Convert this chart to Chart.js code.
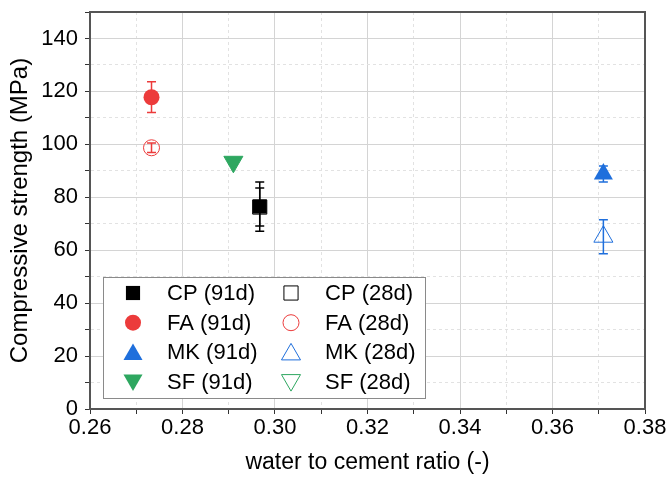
<!DOCTYPE html>
<html>
<head>
<meta charset="utf-8">
<script src="https://cdn.jsdelivr.net/npm/chart.js@4"></script>
<style>
  html, body { margin: 0; padding: 0; background: #fff; }
  #wrap { width: 670px; height: 484px; position: relative; }
</style>
</head>
<body>
<div id="wrap"><canvas id="scatterChart"></canvas></div>
<script>
// mixes and their water to cement ratio
var mixNames = ['CP', 'FA', 'MK', 'SF'];
var mixWc = [0.2967, 0.2733, 0.3710, 0.2910];

// compressive strength (MPa) and error (+/-)
var strength91 = [76.5, 117.8, 88.8, 93.4];
var error91 = [9.3, 5.8, 3.0, 1.0];
var strength28 = [76.3, 98.7, 65.1, 93.4];
var error28 = [7.2, 1.8, 6.4, 1.0];

var mixColors = ['#000000', '#ec3b3b', '#1f6fdc', '#2ea760'];
var mixSymbols = ['rect', 'circle', 'triangle', 'triangle'];
var mixRotation = [0, 0, 0, 180];
var mixRadius = [10, 8, 11, 11];

var fontFamily = '"Liberation Sans", Arial, sans-serif';

var datasets = [];
// 91 day series first so they sit on top
mixNames.forEach(function (name, i) {
  datasets.push({
    label: name + ' (91d)',
    data: [{ x: mixWc[i], y: strength91[i] }],
    errors: [error91[i]],
    pointStyle: mixSymbols[i],
    rotation: mixRotation[i],
    pointRadius: mixRadius[i],
    pointHoverRadius: mixRadius[i],
    backgroundColor: mixColors[i],
    borderColor: mixColors[i],
    borderWidth: 0,
    hollow: false
  });
});
mixNames.forEach(function (name, i) {
  datasets.push({
    label: name + ' (28d)',
    data: [{ x: mixWc[i], y: strength28[i] }],
    errors: [error28[i]],
    pointStyle: mixSymbols[i],
    rotation: mixRotation[i],
    pointRadius: mixRadius[i],
    pointHoverRadius: mixRadius[i],
    backgroundColor: 'rgba(0,0,0,0)',
    borderColor: mixColors[i],
    borderWidth: 1,
    hollow: true
  });
});

var errorBars = {
  id: 'errorBars',
  beforeDatasetsDraw: function (chart) {
    var ctx = chart.ctx;
    var yScale = chart.scales.y;
    ctx.save();
    chart.data.datasets.forEach(function (ds, di) {
      var meta = chart.getDatasetMeta(di);
      meta.data.forEach(function (pt, j) {
        var v = ds.data[j].y, e = ds.errors[j];
        var yTop = yScale.getPixelForValue(v + e);
        var yBot = yScale.getPixelForValue(v - e);
        ctx.strokeStyle = ds.borderColor;
        ctx.lineWidth = 1.5;
        ctx.beginPath();
        ctx.moveTo(pt.x, yTop); ctx.lineTo(pt.x, yBot);
        ctx.moveTo(pt.x - 4.5, yTop); ctx.lineTo(pt.x + 4.5, yTop);
        ctx.moveTo(pt.x - 4.5, yBot); ctx.lineTo(pt.x + 4.5, yBot);
        ctx.stroke();
      });
    });
    ctx.restore();
  }
};

// legend drawn inside the plot area, two columns
var innerLegend = {
  id: 'innerLegend',
  afterDraw: function (chart) {
    var ctx = chart.ctx;
    var area = chart.chartArea;
    var bx = area.left + 13, by = 277, bw = 322, bh = 121;
    ctx.save();
    ctx.fillStyle = '#ffffff';
    ctx.fillRect(bx, by, bw, bh);
    ctx.strokeStyle = '#8a8a8a';
    ctx.lineWidth = 1;
    ctx.strokeRect(bx + 0.5, by + 0.5, bw, bh);
    ctx.font = '22px ' + fontFamily;
    ctx.textBaseline = 'middle';
    ctx.fillStyle = '#000';
    chart.data.datasets.forEach(function (ds, di) {
      var col = di < 4 ? 0 : 1;
      var row = di % 4;
      var cy = by + 16 + row * 29.7;
      var sx = bx + 30 + col * 158;
      var r = ds.pointStyle === 'rect' ? 10 : (ds.pointStyle === 'circle' ? 8 : 11);
      ctx.fillStyle = ds.backgroundColor;
      ctx.strokeStyle = ds.borderColor;
      ctx.lineWidth = ds.hollow ? 1 : 0;
      Chart.helpers.drawPoint(ctx, {
        pointStyle: ds.pointStyle,
        rotation: ds.rotation,
        radius: r,
        borderWidth: ds.hollow ? 1 : 0
      }, sx, ds.pointStyle === 'triangle' ? cy + (ds.rotation ? -2 : 2) : cy);
      ctx.fillStyle = '#000';
      ctx.fillText(ds.label, sx + 34, cy + 1);
    });
    ctx.restore();
  }
};

function minorDash(ctx) {
  if (!ctx.tick) return [];
  return ctx.tick.major ? [] : [3, 3];
}

new Chart(document.getElementById('scatterChart'), {
  type: 'scatter',
  data: { datasets: datasets },
  options: {
    responsive: true,
    maintainAspectRatio: false,
    animation: false,
    layout: { padding: { top: 6, right: 25, left: 2, bottom: 4 } },
    plugins: {
      legend: { display: false },
      tooltip: { enabled: false }
    },
    scales: {
      x: {
        type: 'linear',
        min: 0.26,
        max: 0.38,
        afterFit: function (s) { s.height = 71; },
        ticks: {
          stepSize: 0.01,
          color: '#000',
          font: { family: fontFamily, size: 22 },
          padding: 1,
          maxRotation: 0,
          autoSkip: false,
          callback: function (v) {
            var n = Math.round(v * 100);
            return n % 2 === 0 ? (n / 100).toFixed(2) : '';
          }
        },
        afterBuildTicks: function (s) {
          s.ticks.forEach(function (t) { t.major = Math.round(t.value * 100) % 2 === 0; });
        },
        grid: {
          color: function (c) { return c.tick && c.tick.major ? '#d4d4d4' : '#e2e2e2'; },
          lineWidth: 1,
          tickColor: '#333',
          tickLength: 5
        },
        border: { color: '#555', width: 2, dash: minorDash },
        title: {
          display: true,
          text: 'water to cement ratio (-)',
          color: '#000',
          font: { family: fontFamily, size: 23 },
          padding: { top: 6 }
        }
      },
      y: {
        min: 0,
        max: 150,
        afterFit: function (s) { s.width = 88; s.paddingTop = 0; s.paddingBottom = 0; },
        ticks: {
          stepSize: 10,
          color: '#000',
          font: { family: fontFamily, size: 22 },
          padding: 7,
          autoSkip: false,
          callback: function (v) { return v % 20 === 0 ? v : ''; }
        },
        afterBuildTicks: function (s) {
          s.ticks.forEach(function (t) { t.major = t.value % 20 === 0; });
        },
        grid: {
          color: function (c) { return c.tick && c.tick.major ? '#d4d4d4' : '#e2e2e2'; },
          lineWidth: 1,
          tickColor: '#333',
          tickLength: 5
        },
        border: { color: '#555', width: 2, dash: minorDash },
        title: {
          display: true,
          text: 'Compressive strength (MPa)',
          color: '#000',
          font: { family: fontFamily, size: 24 },
          padding: { top: 4, bottom: 0 }
        }
      }
    }
  },
  plugins: [errorBars, innerLegend, {
    id: 'frame',
    afterDraw: function (chart) {
      var a = chart.chartArea, ctx = chart.ctx;
      ctx.save();
      ctx.strokeStyle = '#555';
      ctx.lineWidth = 2;
      ctx.beginPath();
      ctx.moveTo(a.left, a.top); ctx.lineTo(a.right, a.top); ctx.lineTo(a.right, a.bottom);
      ctx.stroke();
      ctx.restore();
    }
  }]
});
</script>
</body>
</html>
